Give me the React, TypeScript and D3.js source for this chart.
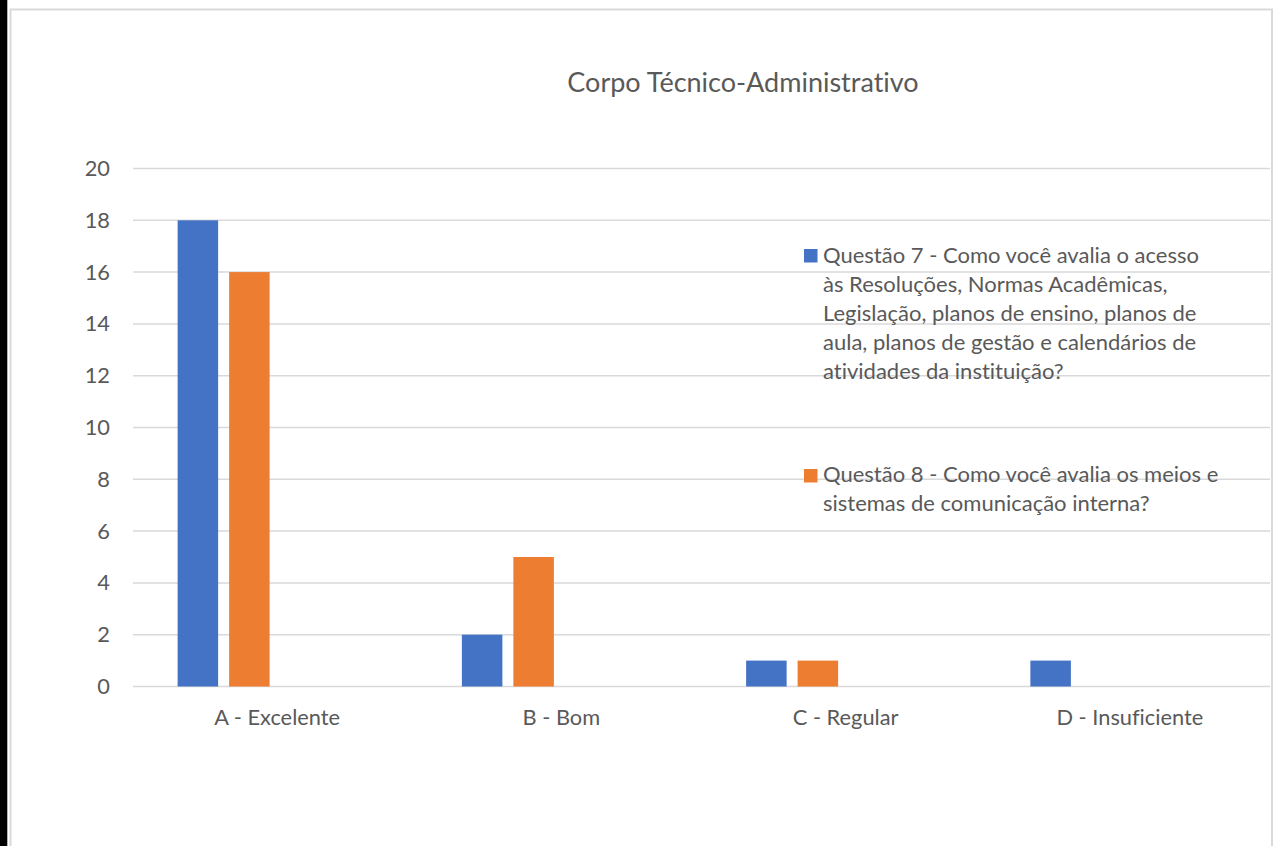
import React from "react";
import * as d3 from "d3";

const title = "Corpo Técnico-Administrativo";
const categories = ["A - Excelente", "B - Bom", "C - Regular", "D - Insuficiente"];
const q7Values = [18, 2, 1, 1];
const q8Values = [16, 5, 1, 0];
const yTicks = [0, 2, 4, 6, 8, 10, 12, 14, 16, 18, 20];
const q7Legend = [
  "Questão 7 - Como você avalia o acesso",
  "às Resoluções, Normas Acadêmicas,",
  "Legislação, planos de ensino, planos de",
  "aula, planos de gestão e calendários de",
  "atividades da instituição?",
];
const q8Legend = [
  "Questão 8 - Como você avalia os meios e",
  "sistemas de comunicação interna?",
];
// the source chart reserves four series slots per category (two are empty)
const seriesSlots = ["q7", "q8", "s3", "s4"];

const W = 1281;
const H = 846;
const FONT = "Lato, 'Open Sans', sans-serif";
const TEXT = "#595959";
const GRID = "#D9D9D9";
const BLUE = "#4472C4";
const ORANGE = "#ED7D31";

const plotLeft = 133;
const plotRight = 1270;
const plotTop = 168.5;
const plotBottom = 686.5;

export default function App() {
  const x0 = d3.scaleBand<string>().domain(categories).range([plotLeft, plotRight]).padding(0);
  const step = x0.bandwidth();
  const groupW = step * (195 / 284.25);
  const x1 = d3
    .scaleBand<string>()
    .domain(seriesSlots)
    .range([(step - groupW) / 2, (step + groupW) / 2])
    .paddingInner(0.2136)
    .paddingOuter(0);
  const y = d3.scaleLinear().domain([0, 20]).range([plotBottom, plotTop]);

  const series = [
    { key: "q7", values: q7Values, color: BLUE },
    { key: "q8", values: q8Values, color: ORANGE },
  ];

  const fs = 21.8;
  const legendFs = 22;

  return (
    <svg
      width={W}
      height={H}
      style={{ position: "absolute", left: 0, top: 0, background: "#fff", fontVariantLigatures: "none" }}
      fontFamily={FONT}
    >
      <rect x={0} y={0} width={W} height={H} fill="#fff" />
      <rect x={0} y={0} width={7.3} height={H} fill="#000" />
      <rect x={10.5} y={9.5} width={1261.5} height={H + 20} fill="#fff" stroke={GRID} strokeWidth={2} />

      <text x={743} y={92} textAnchor="middle" fontSize={27} fill={TEXT}>
        {title}
      </text>

      {yTicks.map((t) => (
        <g key={t}>
          <line x1={plotLeft} x2={plotRight} y1={y(t)} y2={y(t)} stroke={GRID} strokeWidth={1.5} />
          <text x={110} y={y(t) + 7.5} textAnchor="end" fontSize={fs} fill={TEXT}>
            {t}
          </text>
        </g>
      ))}

      {series.map((s) =>
        categories.map((c, i) => {
          const v = s.values[i];
          if (!v) return null;
          return (
            <rect
              key={s.key + c}
              x={(x0(c) as number) + (x1(s.key) as number)}
              y={y(v)}
              width={x1.bandwidth()}
              height={y(0) - y(v)}
              fill={s.color}
            />
          );
        })
      )}

      {categories.map((c) => (
        <text
          key={c}
          x={(x0(c) as number) + step / 2 + 2}
          y={725}
          textAnchor="middle"
          fontSize={fs}
          fill={TEXT}
        >
          {c}
        </text>
      ))}

      <rect x={804} y={249} width={13.5} height={13.5} fill={BLUE} />
      {q7Legend.map((l, i) => (
        <text key={l} x={823} y={263 + i * 29} fontSize={legendFs} fill={TEXT}>
          {l}
        </text>
      ))}
      <rect x={804} y={469} width={13.5} height={13.5} fill={ORANGE} />
      {q8Legend.map((l, i) => (
        <text key={l} x={823} y={482 + i * 29} fontSize={legendFs} fill={TEXT}>
          {l}
        </text>
      ))}
    </svg>
  );
}
